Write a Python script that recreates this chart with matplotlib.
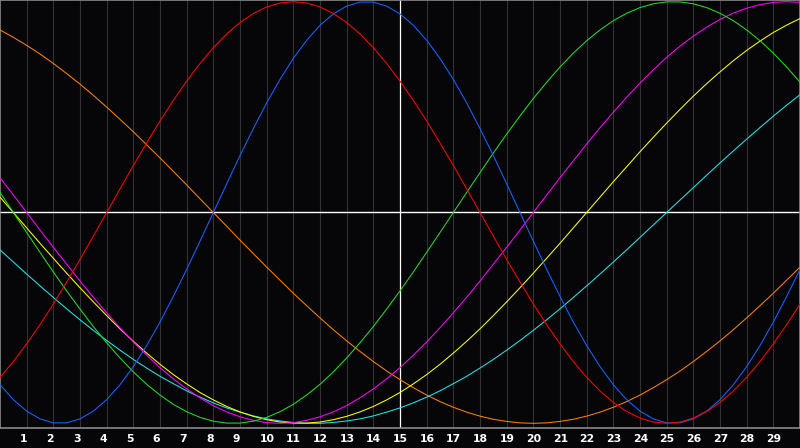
import numpy as np
import matplotlib
matplotlib.use('Agg')
import matplotlib.pyplot as plt
import matplotlib.transforms as mtransforms

# sample positions (days, every half day)
days = np.arange(0, 30.01, 0.5)
day_labels = [str(i) for i in range(1, 30)]

# curve values (x1000)
blue_23 = [-817,-888,-942,-979,-998,-998,-979,-942,-888,-817,-731,-631,-520,-398,-270,-136,0,136,270,398,520,631,731,817,888,942,979,998,998,979,942,888,817,731,631,520,398,270,136,0,-136,-270,-398,-520,-631,-731,-817,-888,-942,-979,-998,-998,-979,-942,-888,-817,-731,-631,-520,-398,-270]
red_28 = [-782,-707,-623,-532,-434,-330,-223,-112,0,112,223,330,434,532,623,707,782,847,901,944,975,994,1000,994,975,944,901,847,782,707,623,532,434,330,223,112,0,-112,-223,-330,-434,-532,-623,-707,-782,-847,-901,-944,-975,-994,-1000,-994,-975,-944,-901,-847,-782,-707,-623,-532,-434]
green_33 = [95,0,-95,-189,-282,-372,-458,-541,-618,-690,-756,-815,-866,-910,-945,-972,-990,-999,-999,-990,-972,-945,-910,-866,-815,-756,-690,-618,-541,-458,-372,-282,-189,-95,0,95,189,282,372,458,541,618,690,756,815,866,910,945,972,990,999,999,990,972,945,910,866,815,756,690,618]
magenta_38 = [165,83,0,-83,-165,-245,-325,-402,-476,-547,-614,-677,-736,-789,-837,-879,-916,-946,-969,-986,-997,-1000,-997,-986,-969,-946,-916,-879,-837,-789,-736,-677,-614,-547,-476,-402,-325,-245,-165,-83,0,83,165,245,325,402,476,547,614,677,736,789,837,879,916,946,969,986,997,1000,997]
yellow_43 = [73,0,-73,-146,-217,-288,-357,-424,-489,-552,-611,-667,-720,-769,-813,-854,-889,-920,-946,-967,-983,-994,-999,-999,-994,-983,-967,-946,-920,-889,-854,-813,-769,-720,-667,-611,-552,-489,-424,-357,-288,-217,-146,-73,0,73,146,217,288,357,424,489,552,611,667,720,769,813,854,889,920]
orange_48 = [866,831,793,752,707,659,609,556,500,442,383,321,259,195,131,65,0,-65,-131,-195,-259,-321,-383,-442,-500,-556,-609,-659,-707,-752,-793,-831,-866,-897,-924,-947,-966,-981,-991,-998,-1000,-998,-991,-981,-966,-947,-924,-897,-866,-831,-793,-752,-707,-659,-609,-556,-500,-442,-383,-321,-259]
cyan_53 = [-177,-235,-292,-348,-403,-457,-509,-559,-607,-653,-697,-738,-777,-812,-846,-876,-903,-927,-947,-965,-979,-989,-996,-1000,-1000,-996,-989,-979,-965,-947,-927,-903,-876,-846,-812,-777,-738,-697,-653,-607,-559,-509,-457,-403,-348,-292,-235,-177,-118,-59,0,59,118,177,235,292,348,403,457,509,559]

series = [
    (orange_48, '#ff8000'),
    (cyan_53, '#22e6e6'),
    (yellow_43, '#ffff00'),
    (magenta_38, '#ff00ff'),
    (green_33, '#22dd22'),
    (blue_23, '#1464ff'),
    (red_28, '#ff0000'),
]

bg = '#060609'
fig = plt.figure(figsize=(8, 4.48), dpi=100, facecolor=bg)
ax = fig.add_axes([0, 20/448, 1, 428/448])
ax.set_facecolor(bg)
ax.set_xlim(0, 30)
ax.set_ylim(-1.0223, 1.008)
for s in ax.spines.values():
    s.set_color('#8a8a8a')
    s.set_linewidth(1.2)
ax.set_xticks([])
ax.set_yticks([])

for i in range(1, 30):
    if i != 15:
        ax.axvline(i, color='#323232', lw=0.8, zorder=1)
ax.axvline(15, color='white', lw=0.9, zorder=1.5)
ax.axhline(0, color='white', lw=1.0, zorder=1.5)

tr = mtransforms.blended_transform_factory(ax.transData, ax.transAxes)
for i, lab in enumerate(day_labels, start=1):
    ax.text(i - 0.27, -11/428, lab, transform=tr, ha='left', va='center',
            color='white', fontsize=7.8, fontweight='bold', clip_on=False)

for vals, c in series:
    ax.plot(days, np.array(vals) / 1000.0, color=c, lw=0.75, zorder=3)

fig.savefig('out.png', facecolor=fig.get_facecolor())
